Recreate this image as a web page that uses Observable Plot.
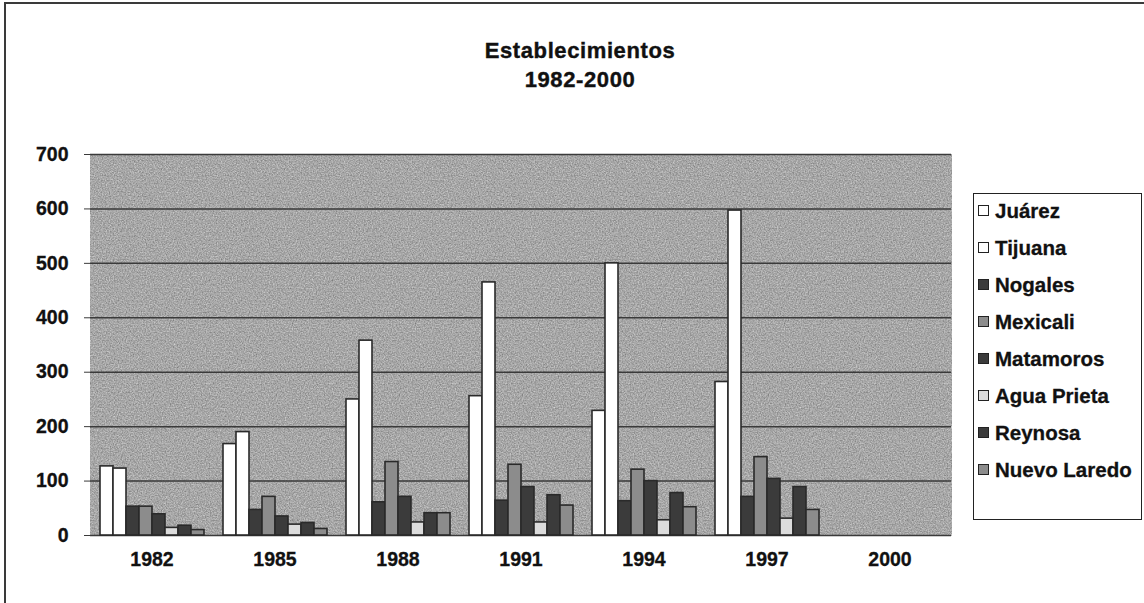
<!DOCTYPE html>
<html>
<head>
<meta charset="utf-8">
<script src="https://cdn.jsdelivr.net/npm/d3@7"></script>
<script src="https://cdn.jsdelivr.net/npm/@observablehq/plot@0.6"></script>
<style>
  html, body { margin: 0; padding: 0; background: #ffffff; }
  #wrap { position: relative; width: 1144px; height: 603px; overflow: hidden; font-family: "Liberation Sans", Arial, sans-serif; }
  #border { position: absolute; left: 4px; top: 2px; width: 1150px; height: 610px; border-top: 2px solid #3a3a3a; border-left: 2px solid #3a3a3a; }
  #title { position: absolute; left: 330px; width: 500px; top: 36px; text-align: center; font-weight: bold; font-size: 22px; line-height: 29px; letter-spacing: 0.6px; color: #111; -webkit-text-stroke: 0.4px #111; }
  #chart { position: absolute; left: 0; top: 0; }
  #legend { position: absolute; left: 973px; top: 193px; width: 167px; height: 325px; border: 1.5px solid #222; background: #fff; }
  .item { position: absolute; left: 4px; font-weight: bold; font-size: 20.5px; color: #111; white-space: nowrap; -webkit-text-stroke: 0.3px #111; }
  .sw { display: inline-block; width: 9px; height: 9px; border: 1.5px solid #222; margin-right: 6px; vertical-align: 2px; }
</style>
</head>
<body>
<div id="wrap">
  <div id="border"></div>
  <div id="title">Establecimientos<br>1982-2000</div>
  <div id="chart"></div>
  <div id="legend"></div>
</div>
<script>
const years = ["1982", "1985", "1988", "1991", "1994", "1997", "2000"];
const cities = ["Juárez", "Tijuana", "Nogales", "Mexicali", "Matamoros", "Agua Prieta", "Reynosa", "Nuevo Laredo"];
// one value per year (2000: no data shown)
const juarez      = [127, 168, 250, 256, 229, 282, null];
const tijuana     = [123, 190, 358, 465, 500, 597, null];
const nogales     = [53, 47, 61, 64, 63, 71, null];
const mexicali    = [53, 71, 135, 130, 121, 144, null];
const matamoros   = [39, 35, 71, 89, 100, 104, null];
const aguaPrieta  = [14, 20, 24, 24, 28, 31, null];
const reynosa     = [18, 23, 41, 74, 78, 89, null];
const nuevoLaredo = [10, 12, 41, 55, 52, 47, null];
const yTicks = [0, 100, 200, 300, 400, 500, 600, 700];
const fills = ["#ffffff", "#ffffff", "#3b3b3b", "#8c8c8c", "#3b3b3b", "#dcdcdc", "#3b3b3b", "#8c8c8c"];

const series = [juarez, tijuana, nogales, mexicali, matamoros, aguaPrieta, reynosa, nuevoLaredo];
const data = [];
years.forEach((year, i) => {
  cities.forEach((city, j) => {
    data.push({year, city, value: series[j][i]});
  });
});

const chart = Plot.plot({
  width: 1144,
  height: 603,
  marginLeft: 88,
  marginRight: 192,
  marginTop: 154,
  marginBottom: 68,
  style: {background: "transparent", fontFamily: "Liberation Sans, Arial, sans-serif", color: "#111"},
  fx: {domain: years, padding: 0, label: null},
  x: {domain: cities, paddingInner: 0, paddingOuter: 0.7, axis: null},
  y: {domain: [0, 700], label: null},
  color: {domain: cities, range: fills},
  marks: [
    Plot.frame({fill: "#a7a7a7", stroke: "#a7a7a7", strokeWidth: 1, className: "bgframe"}),
    Plot.ruleY(yTicks, {stroke: "#3a3a3a", strokeWidth: 1.5}),
    Plot.barY(data, {fx: "year", x: "city", y: "value", fill: "city", stroke: "#2a2a2a", strokeWidth: 1.6}),
    Plot.axisY({ticks: yTicks, tickSize: 6, tickPadding: 16, fontSize: 19.5, fontWeight: "bold", label: null, stroke: "#3a3a3a"}),
    Plot.axisFx({anchor: "bottom", tickSize: 0, tickPadding: 17, fontSize: 19.5, fontWeight: "bold", label: null})
  ]
});

// subtle paper grain on the plot background
const ns = "http://www.w3.org/2000/svg";
const defs = document.createElementNS(ns, "defs");
defs.innerHTML = `<filter id="grain" x="0" y="0" width="100%" height="100%" color-interpolation-filters="sRGB">
  <feTurbulence type="fractalNoise" baseFrequency="0.75" numOctaves="2" seed="4" result="t"/>
  <feColorMatrix in="t" type="saturate" values="0" result="g"/>
  <feComponentTransfer in="g" result="g2">
    <feFuncR type="linear" slope="0.55" intercept="0.38"/>
    <feFuncG type="linear" slope="0.55" intercept="0.38"/>
    <feFuncB type="linear" slope="0.55" intercept="0.38"/>
    <feFuncA type="linear" slope="0" intercept="1"/>
  </feComponentTransfer>
  <feComposite in="g2" in2="SourceGraphic" operator="in"/>
</filter>`;
chart.insertBefore(defs, chart.firstChild);
chart.querySelectorAll(".bgframe rect, rect.bgframe, g[aria-label='frame'] rect").forEach(r => r.setAttribute("filter", "url(#grain)"));
chart.querySelectorAll("g[aria-label='y-axis tick label'] text, g[aria-label='fx-axis tick label'] text").forEach(t => {
  t.setAttribute("stroke", "#111"); t.setAttribute("stroke-width", "0.3");
});
document.getElementById("chart").appendChild(chart);

const legend = document.getElementById("legend");
cities.forEach((c, i) => {
  const it = document.createElement("div");
  it.className = "item";
  it.style.top = (5 + i * 37) + "px";
  const sw = document.createElement("span");
  sw.className = "sw";
  sw.style.background = fills[i];
  it.appendChild(sw);
  it.appendChild(document.createTextNode(c));
  legend.appendChild(it);
});
</script>
</body>
</html>
